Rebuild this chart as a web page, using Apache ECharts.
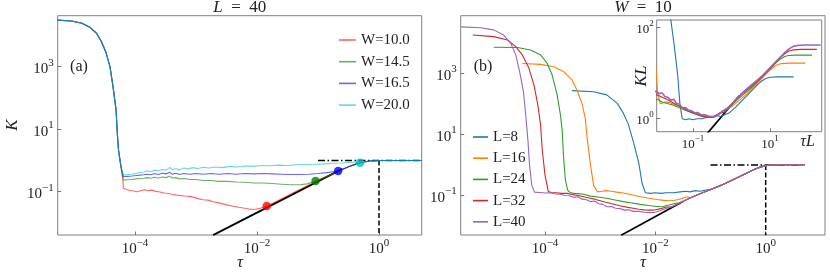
<!DOCTYPE html>
<html><head><meta charset="utf-8">
<script src="https://cdn.jsdelivr.net/npm/echarts@6/dist/echarts.min.js"></script>
<style>html,body{margin:0;padding:0;background:#fff}#c{width:830px;height:277px}</style>
</head><body><div id="c"></div>
<script>
// all values are log10 exponents: [log10(tau), log10(K)]
const wNames = ['W=10.0','W=14.5','W=16.5','W=20.0'];
const lNames = ['L=8','L=16','L=24','L=32','L=40'];
const lSizes = [8,16,24,32,40];
const xTicksMain = [-4,-2,0];
const yTicksMain = [-1,1,3];
const xTicksInset = [-1,1];
const yTicksInset = [0,2];

// Panel (a): common steep drop shared by all W
const headA = [[-5.27,4.49],[-5.04,4.46],[-4.87,4.39],[-4.74,4.26],[-4.63,4.07],[-4.55,3.80],[-4.48,3.48],[-4.41,3.00],[-4.36,2.36],[-4.31,1.61],[-4.29,0.87],[-4.27,0.33],[-4.23,-0.20]];
const lowW10 = [[-4.20,-0.60],[-4.19,-0.89],[-4.14,-0.93],[-4.08,-0.96],[-4.02,-0.98],[-3.97,-1.00],[-3.91,-0.97],[-3.84,-0.94],[-3.78,-0.97],[-3.73,-0.95],[-3.66,-0.99],[-3.59,-1.01],[-3.52,-1.04],[-3.45,-1.06],[-3.38,-1.09],[-3.32,-1.11],[-3.25,-1.12],[-3.18,-1.14],[-3.10,-1.15],[-3.02,-1.19],[-2.95,-1.23],[-2.88,-1.26],[-2.80,-1.27],[-2.72,-1.32],[-2.64,-1.35],[-2.56,-1.39],[-2.48,-1.43],[-2.40,-1.46],[-2.30,-1.50],[-2.20,-1.53],[-2.11,-1.56],[-2.02,-1.56],[-1.95,-1.53],[-1.85,-1.47]];
const lowW145 = [[-4.19,-0.63],[-4.12,-0.62],[-4.05,-0.61],[-3.98,-0.59],[-3.92,-0.58],[-3.86,-0.57],[-3.80,-0.55],[-3.74,-0.57],[-3.68,-0.54],[-3.62,-0.56],[-3.55,-0.53],[-3.49,-0.55],[-3.43,-0.50],[-3.39,-0.56],[-3.33,-0.55],[-3.27,-0.59],[-3.20,-0.58],[-3.10,-0.61],[-3.00,-0.61],[-2.88,-0.64],[-2.75,-0.64],[-2.62,-0.67],[-2.48,-0.67],[-2.34,-0.69],[-2.20,-0.70],[-2.05,-0.72],[-1.90,-0.72],[-1.75,-0.74],[-1.60,-0.76],[-1.45,-0.78],[-1.30,-0.78],[-1.18,-0.75],[-1.04,-0.66]];
const lowW165 = [[-4.19,-0.52],[-4.12,-0.51],[-4.05,-0.50],[-3.98,-0.48],[-3.92,-0.47],[-3.86,-0.46],[-3.80,-0.44],[-3.74,-0.46],[-3.68,-0.42],[-3.62,-0.45],[-3.55,-0.41],[-3.49,-0.43],[-3.43,-0.38],[-3.39,-0.44],[-3.33,-0.41],[-3.27,-0.45],[-3.20,-0.42],[-3.10,-0.44],[-3.00,-0.42],[-2.88,-0.44],[-2.75,-0.42],[-2.62,-0.44],[-2.48,-0.42],[-2.34,-0.44],[-2.20,-0.42],[-2.05,-0.43],[-1.90,-0.42],[-1.75,-0.43],[-1.60,-0.44],[-1.45,-0.45],[-1.30,-0.45],[-1.15,-0.44],[-1.00,-0.42],[-0.85,-0.39],[-0.67,-0.34]];
const lowW20 = [[-4.19,-0.47],[-4.12,-0.45],[-4.05,-0.44],[-3.98,-0.41],[-3.92,-0.38],[-3.86,-0.37],[-3.80,-0.33],[-3.74,-0.36],[-3.68,-0.31],[-3.62,-0.34],[-3.55,-0.29],[-3.49,-0.31],[-3.43,-0.22],[-3.39,-0.30],[-3.33,-0.26],[-3.27,-0.31],[-3.20,-0.24],[-3.13,-0.27],[-3.05,-0.23],[-2.97,-0.26],[-2.88,-0.22],[-2.78,-0.24],[-2.68,-0.21],[-2.57,-0.23],[-2.45,-0.19],[-2.33,-0.21],[-2.20,-0.18],[-2.07,-0.19],[-1.93,-0.16],[-1.79,-0.17],[-1.64,-0.15],[-1.50,-0.16],[-1.35,-0.14],[-1.20,-0.13],[-1.05,-0.12],[-0.90,-0.11],[-0.75,-0.09],[-0.60,-0.08],[-0.45,-0.06],[-0.31,-0.05]];
const envA = [[-1.65,-1.28],[-1.45,-1.08],[-1.25,-0.88],[-1.04,-0.68],[-0.85,-0.51],[-0.67,-0.35],[-0.50,-0.20],[-0.31,-0.07],[-0.15,-0.02],[0.00,0.00],[0.30,0.00],[0.70,0.00]];
const dotsA = [[-1.84,-1.46],[-1.04,-0.66],[-0.67,-0.34],[-0.31,-0.07]];
const lineA = [[-2.72,-2.39],[-0.60,-0.27]];
const dashDotA = [[-1.00,0.00],[0.70,0.00]];
const dashA = [[0.00,0.00],[0.00,-2.39]];

// Panel (b): steep drops and low parts per L
const headB = [
  [[-3.51,2.44],[-3.12,2.40],[-2.88,2.30],[-2.69,2.02],[-2.58,1.70],[-2.49,1.34],[-2.39,0.71],[-2.30,0.06],[-2.24,-0.60],[-2.18,-0.91]],
  [[-4.41,3.33],[-4.08,3.30],[-3.84,3.22],[-3.66,3.06],[-3.51,2.79],[-3.42,2.46],[-3.33,2.02],[-3.27,1.53],[-3.24,0.93],[-3.18,0.06],[-3.12,-0.66],[-3.05,-0.88]],
  [[-4.93,3.86],[-4.50,3.85],[-4.26,3.77],[-4.08,3.61],[-3.96,3.33],[-3.87,2.95],[-3.78,2.30],[-3.72,1.64],[-3.69,1.15],[-3.66,0.16],[-3.63,-0.49],[-3.59,-0.82],[-3.55,-0.90]],
  [[-5.31,4.26],[-4.93,4.21],[-4.68,4.10],[-4.53,3.88],[-4.41,3.61],[-4.29,3.17],[-4.20,2.62],[-4.13,1.97],[-4.08,1.31],[-4.05,0.49],[-4.00,-0.33],[-3.94,-0.87]],
  [[-5.52,4.53],[-5.17,4.50],[-4.93,4.43],[-4.75,4.26],[-4.62,3.99],[-4.53,3.61],[-4.46,3.06],[-4.39,2.40],[-4.35,1.64],[-4.31,0.82],[-4.28,0.00],[-4.24,-0.66],[-4.19,-0.89]]
];
const lowB = [
  [[-2.09,-0.93],[-2.00,-0.91],[-1.90,-0.93],[-1.80,-0.91],[-1.67,-0.91],[-1.55,-0.88],[-1.45,-0.86],[-1.37,-0.88],[-1.28,-0.84],[-1.19,-0.86],[-1.08,-0.82],[-0.98,-0.79]],
  [[-2.97,-0.86],[-2.90,-0.84],[-2.80,-0.86],[-2.70,-0.89],[-2.58,-0.92],[-2.45,-0.97],[-2.27,-1.04],[-2.12,-1.09],[-1.97,-1.13],[-1.85,-1.16],[-1.73,-1.17],[-1.62,-1.15],[-1.52,-1.10],[-1.42,-1.04]],
  [[-3.48,-0.93],[-3.40,-0.94],[-3.30,-0.96],[-3.18,-1.02],[-3.05,-1.05],[-2.88,-1.09],[-2.75,-1.14],[-2.58,-1.20],[-2.45,-1.24],[-2.27,-1.29],[-2.12,-1.33],[-1.97,-1.36],[-1.85,-1.35],[-1.75,-1.31],[-1.65,-1.26]],
  [[-3.88,-0.90],[-3.80,-0.91],[-3.70,-0.93],[-3.60,-0.93],[-3.50,-0.97],[-3.40,-1.00],[-3.30,-1.04],[-3.20,-1.08],[-3.10,-1.12],[-3.00,-1.17],[-2.90,-1.22],[-2.80,-1.26],[-2.70,-1.31],[-2.60,-1.35],[-2.50,-1.39],[-2.40,-1.42],[-2.30,-1.45],[-2.20,-1.47],[-2.10,-1.48],[-2.00,-1.47],[-1.90,-1.43],[-1.80,-1.38]],
  [[-4.10,-0.90],[-3.99,-0.92],[-3.90,-0.91],[-3.80,-0.95],[-3.72,-0.96],[-3.64,-1.00],[-3.56,-1.01],[-3.48,-1.06],[-3.40,-1.04],[-3.33,-1.12],[-3.25,-1.14],[-3.18,-1.20],[-3.10,-1.18],[-3.03,-1.27],[-2.95,-1.29],[-2.88,-1.37],[-2.80,-1.36],[-2.72,-1.42],[-2.64,-1.43],[-2.56,-1.48],[-2.48,-1.47],[-2.40,-1.52],[-2.30,-1.52],[-2.20,-1.55],[-2.10,-1.56],[-2.00,-1.55],[-1.92,-1.50],[-1.85,-1.45]]
];
const envB = [[-1.70,-1.37],[-1.55,-1.24],[-1.37,-1.08],[-1.19,-0.94],[-0.95,-0.77],[-0.80,-0.66],[-0.65,-0.53],[-0.50,-0.40],[-0.34,-0.26],[-0.20,-0.14],[-0.10,-0.07],[0.00,-0.02],[0.10,0.00],[0.30,0.01],[0.50,0.01],[0.71,0.01]];
const lineB = [[-2.62,-2.30],[-1.50,-1.20]];
const dashDotB = [[-1.00,0.00],[0.71,0.00]];
const dashB = [[0.00,0.00],[0.00,-2.30]];
const lineInset = [[-0.62,-0.32],[0.20,0.50]];

const F = 'Liberation Serif';
const TXT = '#222';
const wColors = ['rgba(255,0,0,0.6)','rgba(0,128,0,0.6)','rgba(0,0,255,0.6)','rgba(0,191,191,0.6)'];
const dotColors = ['#ff0000','#008000','#0000ff','#00bfbf'];
const lColors = ['#1f77b4','#ff7f0e','#2ca02c','#d62728','#9467bd'];

function joinCurve(head, own, env){
  const last = own[own.length-1][0];
  return head.concat(own, env.filter(p => p[0] > last));
}
function expLabel(size, margin, custom){
  const ss = Math.round(size*0.7);
  return {
    customValues: custom, margin: margin,
    formatter: v => { const e = Math.round(v); const s = e < 0 ? '\u2212' + (-e) : String(e); return '{b|10}{s|' + s + '}'; },
    rich: {
      b: {fontFamily: F, fontSize: size, color: TXT, padding: [Math.round(size*0.3),0,0,0]},
      s: {fontFamily: F, fontSize: ss, color: TXT, padding: [0,0,Math.round(size*0.55),0]}
    }
  };
}
function axis(grid, min, max, custom, size, margin){
  return {
    type: 'value', gridIndex: grid, min: min, max: max,
    axisLine: {show: false, onZero: false}, splitLine: {show: false},
    axisTick: {show: true, inside: true, length: 3.5, customValues: custom, lineStyle: {color: '#555', width: 0.8}},
    axisLabel: expLabel(size, margin, custom)
  };
}
function lineSeries(name, xi, yi, data, color, width, type, z){
  return {type: 'line', name: name, xAxisIndex: xi, yAxisIndex: yi, data: data, showSymbol: false, symbol: 'none',
    clip: true, z: z || 2, silent: true, animation: false,
    itemStyle: {color: color}, lineStyle: {color: color, width: width, type: type || 'solid'}};
}

const series = [];
// Panel (a)
series.push(lineSeries('lineA', 0, 0, lineA, '#000', 1.7, 'solid', 1));
const lowsA = [lowW10, lowW145, lowW165, lowW20];
lowsA.forEach((low, i) => series.push(lineSeries(wNames[i], 0, 0, joinCurve(headA, low, envA), wColors[i], 1.1)));
series.push({type: 'scatter', xAxisIndex: 0, yAxisIndex: 0, symbolSize: 8.5, z: 4, silent: true, animation: false,
  data: dotsA.map((p, i) => ({value: p, itemStyle: {color: dotColors[i]}}))});
series.push(lineSeries('ddA', 0, 0, dashDotA, '#000', 1.5, [7,2.5,1.5,2.5], 1));
series.push(lineSeries('dA', 0, 0, dashA, '#000', 1.5, [5,2.5], 1));
// Panel (b)
series.push(lineSeries('lineB', 1, 1, lineB, '#000', 1.7, 'solid', 1));
headB.forEach((h, i) => series.push(lineSeries(lNames[i], 1, 1, joinCurve(h, lowB[i], envB), lColors[i], 1.1)));
series.push(lineSeries('ddB', 1, 1, dashDotB, '#000', 1.5, [7,2.5,1.5,2.5], 1));
series.push(lineSeries('dB', 1, 1, dashB, '#000', 1.5, [5,2.5], 1));
// Inset: same curves in scaled variables tau*L, K*L
series.push(lineSeries('lineIn', 2, 2, lineInset, '#000', 1.7, 'solid', 1));
headB.forEach((h, i) => {
  const s = Math.log10(lSizes[i]);
  const d = joinCurve(h, lowB[i], envB).map(p => [p[0] + s, p[1] + s]);
  series.push(lineSeries('in' + lNames[i], 2, 2, d, lColors[i], i === 4 ? 1.6 : 1.1));
});

function txt(x, y, text, size, opts){
  return Object.assign({type: 'text', x: x, y: y, silent: true, z: 10,
    style: Object.assign({text: text, fontFamily: F, fontSize: size, fill: TXT, align: 'center', verticalAlign: 'middle'}, (opts && opts.style) || {})},
    opts && opts.rotation !== undefined ? {rotation: opts.rotation} : {});
}
const italic = size => ({fontFamily: F, fontSize: size, fontStyle: 'italic', fill: TXT});

const option = {
  backgroundColor: '#fff',
  animation: false,
  grid: [
    {left: 57.7, top: 15.7, width: 364, height: 219.3, show: true, borderColor: '#808080', borderWidth: 1},
    {left: 460.7, top: 15.7, width: 364.3, height: 219.3, show: true, borderColor: '#808080', borderWidth: 1},
    {left: 656.7, top: 20, width: 165, height: 111.7, show: true, backgroundColor: '#fff', borderColor: '#808080', borderWidth: 1}
  ],
  xAxis: [
    axis(0, -5.267, 0.700, xTicksMain, 15, 2),
    axis(1, -5.528, 1.075, xTicksMain, 15, 2),
    axis(2, -1.94, 2.34, xTicksInset, 13, 2)
  ],
  yAxis: [
    axis(0, -2.386, 4.632, yTicksMain, 15, 4),
    axis(1, -2.295, 4.895, yTicksMain, 15, 4),
    axis(2, -0.29, 2.16, yTicksInset, 13, 3)
  ],
  legend: [
    {data: wNames, orient: 'vertical', left: 334, top: 27, itemWidth: 17, itemHeight: 1.6, itemGap: 5.7, icon: 'rect',
      textStyle: {fontFamily: F, fontSize: 15, color: TXT, lineHeight: 16}, selectedMode: false},
    {data: lNames, orient: 'vertical', left: 468, top: 124, itemWidth: 15, itemHeight: 1.6, itemGap: 5.2, icon: 'rect',
      textStyle: {fontFamily: F, fontSize: 15, color: TXT, lineHeight: 16}, selectedMode: false}
  ],
  graphic: [
    txt(239.7, 8, '{i|L}\u2002=\u200240', 17, {style: {rich: {i: italic(17)}}}),
    txt(643, 8, '{i|W}\u2002=\u200210', 17, {style: {rich: {i: italic(17)}}}),
    txt(13, 125, 'K', 17, {rotation: Math.PI/2, style: {fontStyle: 'italic'}}),
    txt(240, 263, '\u03c4', 17, {style: {fontStyle: 'italic'}}),
    txt(643, 263, '\u03c4', 17, {style: {fontStyle: 'italic'}}),
    txt(79, 67, '(a)', 16),
    txt(483, 67, '(b)', 16),
    txt(641.7, 76, 'KL', 17, {rotation: Math.PI/2, style: {fontStyle: 'italic'}}),
    txt(807.5, 142, '\u03c4L', 16, {style: {fontStyle: 'italic'}})
  ],
  series: series
};
const chart = echarts.init(document.getElementById('c'), null, {renderer: 'canvas'});
chart.setOption(option);
</script></body></html>
